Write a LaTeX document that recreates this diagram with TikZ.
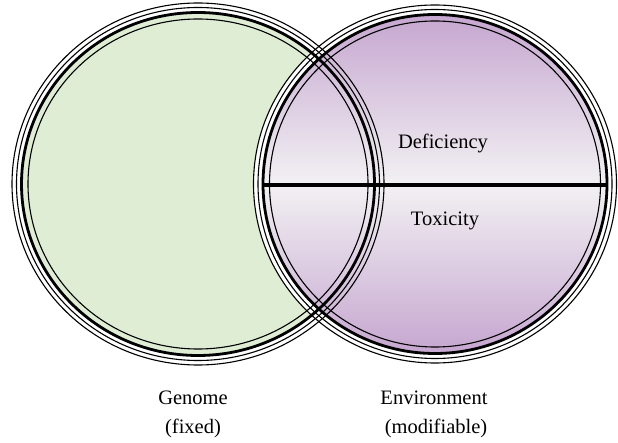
\documentclass[tikz,border=0pt]{standalone}
\usepackage{fontspec}
\setmainfont{Liberation Serif}
\definecolor{genomegreen}{RGB}{224,237,213}
\definecolor{envpurple}{RGB}{198,166,208}
\definecolor{envlight}{RGB}{242,241,243}
\tikzset{
  thinring/.style={draw=black,line width=1.1pt},
  thickring/.style={draw=black,line width=2.8pt},
  label/.style={font=\fontsize{20.5}{22}\selectfont,inner sep=0pt},
  divider/.style={draw=black,line width=3.2pt}
}
\begin{document}
\begin{tikzpicture}[x=1pt,y=-1pt]
\useasboundingbox (0,0) rectangle (618,443);
% left circle (Genome)
\fill[white] (198,184) ellipse [x radius=186,y radius=181];
\fill[genomegreen] (198,184) ellipse [x radius=176.5,y radius=171.5];
% right circle (Environment)
\fill[white] (435,184) ellipse [x radius=181.5,y radius=179];
\shade[top color=envpurple,bottom color=envpurple,middle color=envlight] (435,184) ellipse [x radius=172,y radius=169.5];
% rings
\foreach \cx/\cy/\rx/\ry in {198/184/186/181, 435/184/181.5/179}{
  \draw[thinring] (\cx,\cy) ellipse [x radius=\rx,y radius=\ry];
  \draw[thinring] (\cx,\cy) ellipse [x radius=\rx-4.5,y radius=\ry-4.5];
  \draw[thickring] (\cx,\cy) ellipse [x radius=\rx-9.5,y radius=\ry-9.5];
  \draw[thinring] (\cx,\cy) ellipse [x radius=\rx-16,y radius=\ry-16];
}
% divider
\coordinate (divL) at (263,185);
\coordinate (divR) at (607.5,185);
\draw[divider] (divL) -- (divR);
% labels
\node[label] (def) at (443,143) {Deficiency};
\node[label] (tox) at (445,221) {Toxicity};
\node[label] (gen) at (193,398) {Genome};
\node[label] (fix) at (193,428) {(fixed)};
\node[label] (env) at (434,398) {Environment};
\node[label] (mod) at (436,428) {(modifiable)};
\end{tikzpicture}
\end{document}
